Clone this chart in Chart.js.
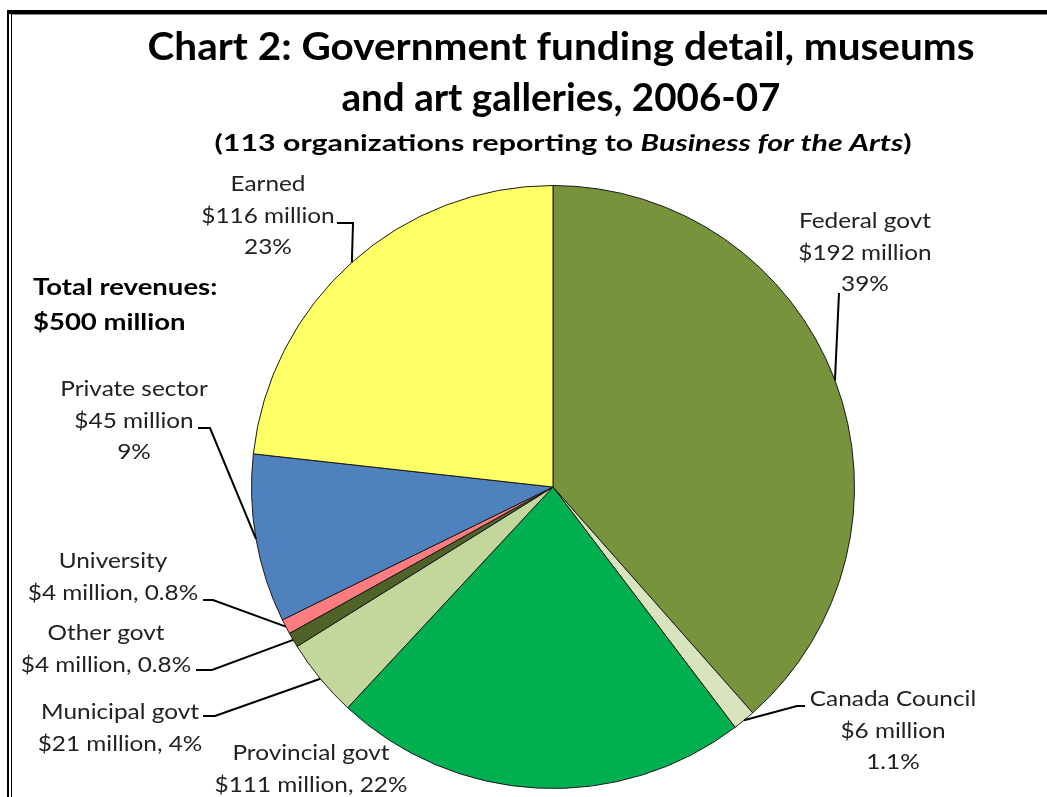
<!DOCTYPE html>
<html>
<head>
<meta charset="utf-8">
<script src="https://cdn.jsdelivr.net/npm/chart.js@4.4.0/dist/chart.umd.min.js"></script>
<style>
  html, body { margin: 0; padding: 0; background: #fff; }
  canvas { display: block; }
</style>
</head>
<body>
<canvas id="chart" width="1047" height="797"></canvas>
<script>
// data, clockwise from 12 o'clock
const categories = ['Federal govt', 'Canada Council', 'Provincial govt', 'Municipal govt',
                    'Other govt', 'University', 'Private sector', 'Earned'];
const revenues = [192, 6, 111, 21, 4, 4, 45, 116];
const shares = ['39%', '1.1%', '22%', '4%', '0.8%', '0.8%', '9%', '23%'];
const sliceColors = ['#77933C', '#D7E4BD', '#00B050', '#C3D69B', '#4F6228', '#FF7C80', '#4F81BD', '#FFFF66'];

const titleLines = ['Chart 2: Government funding detail, museums', 'and art galleries, 2006-07'];
const totalNote = ['Total revenues:', '$500 million'];

const FONT = 'Lato, "Open Sans", sans-serif';

// label layout: text centre x, first baseline y, leader start / elbow
const labelLayout = [
  { x: 865, y: 228, lines: 3, from: [839, 293], elbow: null },
  { x: 893, y: 706, lines: 3, from: [805, 706], elbow: [797, 706] },
  { x: 311, y: 760, lines: 2, from: null, elbow: null },
  { x: 120, y: 719, lines: 2, from: [203, 716], elbow: [215, 716] },
  { x: 106, y: 640, lines: 2, from: [196, 670], elbow: [212, 670] },
  { x: 113, y: 568, lines: 2, from: [203, 600], elbow: [213, 600] },
  { x: 134, y: 396, lines: 3, from: [198, 428], elbow: [210, 428] },
  { x: 268, y: 191, lines: 3, from: [337, 223], elbow: [353, 223] },
];

function labelText(i) {
  const money = '$' + revenues[i] + ' million';
  if (labelLayout[i].lines === 3) return [categories[i], money, shares[i]];
  return [categories[i], money + ', ' + shares[i]];
}

// text drawn with a horizontal stretch (the original font is wider than Lato)
function stretchText(ctx, text, x, y, sx, align) {
  ctx.save();
  ctx.translate(x, y);
  ctx.scale(sx, 1);
  ctx.textAlign = align || 'center';
  ctx.fillText(text, 0, 0);
  ctx.restore();
}

const decorations = {
  id: 'decorations',
  beforeDraw(chart) {
    const ctx = chart.ctx;
    ctx.save();
    ctx.fillStyle = '#fff';
    ctx.fillRect(0, 0, chart.width, chart.height);
    // frame
    ctx.fillStyle = '#000';
    ctx.fillRect(8, 10, chart.width - 8, 4);
    ctx.fillRect(7, 10, 2, chart.height - 10);
    ctx.fillRect(11, 14, 1, chart.height - 14);
    ctx.fillStyle = '#888';
    ctx.fillRect(12, 14, chart.width - 12, 1);
    ctx.restore();
  },
  afterDatasetsDraw(chart) {
    const ctx = chart.ctx;
    const arcs = chart.getDatasetMeta(0).data;
    ctx.save();
    ctx.fillStyle = '#000';
    ctx.textBaseline = 'alphabetic';

    // title
    ctx.font = 'bold 39px ' + FONT;
    const w1 = ctx.measureText(titleLines[0]).width;
    const w2 = ctx.measureText(titleLines[1]).width;
    stretchText(ctx, titleLines[0], 561, 60, 827 / w1);
    stretchText(ctx, titleLines[1], 561, 111, 439 / w2);

    // subtitle with italic part, fitted to the original width
    const parts = [
      ['(113 organizations reporting to ', 'bold'],
      ['Business for the Arts', 'italic bold'],
      [')', 'bold'],
    ];
    let total = 0;
    parts.forEach(p => { ctx.font = p[1] + ' 23px ' + FONT; total += ctx.measureText(p[0]).width; });
    const sx = 697 / total;
    let x = 563 - 697 / 2;
    parts.forEach(p => {
      ctx.font = p[1] + ' 23px ' + FONT;
      stretchText(ctx, p[0], x, 151, sx, 'left');
      x += ctx.measureText(p[0]).width * sx;
    });

    // total note
    ctx.font = 'bold 22px ' + FONT;
    stretchText(ctx, totalNote[0], 33, 295, 1.25, 'left');
    stretchText(ctx, totalNote[1], 33, 330, 1.25, 'left');

    // slice labels with leader lines
    ctx.font = '21px ' + FONT;
    ctx.fillStyle = '#222';
    ctx.strokeStyle = '#000';
    ctx.lineWidth = 2;
    arcs.forEach((arc, i) => {
      const L = labelLayout[i];
      labelText(i).forEach((t, k) => stretchText(ctx, t, L.x, L.y + k * 31.5, 1.16));
      if (!L.from) return;
      const mid = (arc.startAngle + arc.endAngle) / 2;
      const px = arc.x + Math.cos(mid) * arc.outerRadius;
      const py = arc.y + Math.sin(mid) * arc.outerRadius;
      ctx.beginPath();
      ctx.moveTo(L.from[0], L.from[1]);
      if (L.elbow) ctx.lineTo(L.elbow[0], L.elbow[1]);
      ctx.lineTo(px, py);
      ctx.stroke();
    });
    ctx.restore();
  }
};

new Chart(document.getElementById('chart').getContext('2d'), {
  type: 'pie',
  data: {
    labels: categories,
    datasets: [{
      data: revenues,
      backgroundColor: sliceColors,
      borderColor: '#1a1a1a',
      borderWidth: 1,
    }],
  },
  options: {
    responsive: false,
    animation: false,
    layout: { padding: { left: 251, right: 192, top: 185, bottom: 8 } },
    plugins: {
      legend: { display: false },
      tooltip: { enabled: false },
    },
  },
  plugins: [decorations],
});
</script>
</body>
</html>
